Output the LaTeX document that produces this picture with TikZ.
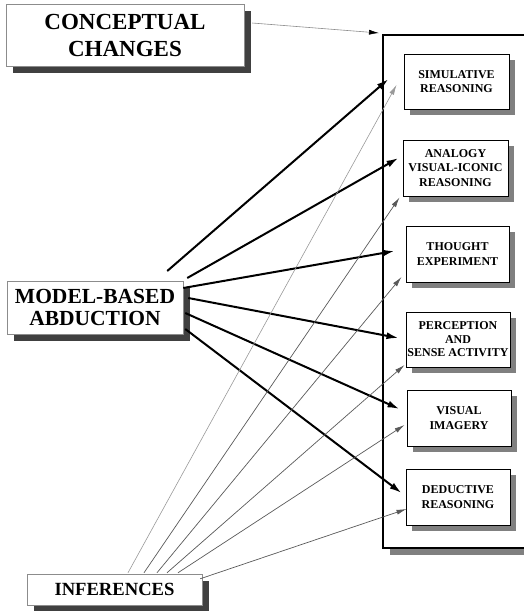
\documentclass[tikz,border=0pt]{standalone}
\usepackage{fontspec}
\setmainfont{Liberation Serif}
\usetikzlibrary{shadows,arrows.meta,calc}

\tikzset{
  outerbox/.style={draw=black!45, line width=0.5pt, fill=white, inner sep=0pt, align=center,
    drop shadow={shadow xshift=7pt, shadow yshift=-7pt, fill=black!75, opacity=1}},
  innerbox/.style={draw=black, line width=1pt, fill=white, inner sep=0pt, align=center,
    font=\bfseries\fontsize{12}{14.5}\selectfont,
    minimum width=104pt, minimum height=55pt,
    drop shadow={shadow xshift=6pt, shadow yshift=-6pt, fill=black!50, opacity=1}},
  frame/.style={draw=black, line width=2pt, fill=white, inner sep=0pt,
    drop shadow={shadow xshift=7pt, shadow yshift=-7pt, fill=black!50, opacity=1}},
  boldarrow/.style={line width=2pt, -{Latex[length=12pt,width=7pt]}},
  thinarrow/.style={line width=0.7pt, draw=black!65, -{Latex[length=10pt,width=5pt]}},
  faintarrow/.style={line width=0.6pt, draw=black!40, -{Latex[length=10pt,width=5pt]}},
  ccarrow/.style={line width=0.6pt, draw=black!45, -{Latex[length=10pt,width=5pt,black]}},
}

\begin{document}
\begin{tikzpicture}[x=1pt,y=-1pt]
\useasboundingbox (0,0) rectangle (524,611);

% enclosing frame of the reasoning modes
\node[frame, minimum width=157pt, minimum height=513pt] (frame) at (461.5,291.5) {};

% reasoning modes
\node[innerbox, minimum width=105pt] (sim) at (456.5,81.5) {SIMULATIVE\\REASONING};
\node[innerbox, minimum width=105pt, minimum height=56pt] (ana) at (455.5,168) {ANALOGY\\VISUAL-ICONIC\\REASONING};
\node[innerbox, minimum width=103pt, minimum height=56pt] (tho) at (457.5,254) {THOUGHT\\EXPERIMENT};
\node[innerbox, font=\bfseries\fontsize{12}{13.5}\selectfont] (per) at (458,339.5) {PERCEPTION\\AND\\SENSE ACTIVITY};
\node[innerbox, minimum height=56pt] (vis) at (459,418) {VISUAL\\IMAGERY};
\node[innerbox, minimum height=56pt] (ded) at (458,497) {DEDUCTIVE\\REASONING};

% source boxes
\node[outerbox, minimum width=238pt, minimum height=62pt,
      font=\bfseries\fontsize{23}{27}\selectfont] (cc) at (125,35) {CONCEPTUAL\\CHANGES};
\node[outerbox, minimum width=176pt, minimum height=53pt,
      font=\bfseries\fontsize{21.5}{22}\selectfont] (mba) at (95,307.5) {MODEL-BASED\\ABDUCTION};
\node[outerbox, minimum width=175pt, minimum height=31pt,
      font=\bfseries\fontsize{18.6}{20}\selectfont] (inf) at (114.5,589.5) {INFERENCES};

% arrow tips in the gap between the frame and the boxes
\coordinate (tsim) at ($(sim.west)+(-15,-2.5)$);
\coordinate (tana) at ($(ana.west)+(-4,-10)$);
\coordinate (ttho) at ($(tho.west)+(-11,-3)$);
\coordinate (tper) at ($(per.west)+(-7,-1.5)$);
\coordinate (tvis) at ($(vis.west)+(-7,-9)$);
\coordinate (tded) at ($(ded.west)+(-4,-4)$);

\coordinate (gsim) at ($(sim.west)+(-7,3.5)$);
\coordinate (gana) at ($(ana.south west)+(-3,1)$);
\coordinate (gtho) at ($(tho.west)+(-4,23)$);
\coordinate (gper) at ($(per.west)+(-1,25.5)$);
\coordinate (gvis) at ($(vis.west)+(-2,7)$);
\coordinate (gded) at ($(ded.west)+(1,12)$);

% conceptual changes feed the frame
\draw[ccarrow] ($(cc.east)+(8,-12)$) -- ($(frame.north west)+(-3,-1)$);

% model-based abduction
\draw[boldarrow] ($(mba.east)+(-16,-36.5)$) -- (tsim);
\draw[boldarrow] ($(mba.east)+(4,-29.5)$) -- (tana);
\draw[boldarrow] ($(mba.east)+(0,-19.5)$) -- (ttho);
\draw[boldarrow] ($(mba.east)+(5,-9.5)$) -- (tper);
\draw[boldarrow] ($(mba.east)+(2,5.5)$) -- (tvis);
\draw[boldarrow] ($(mba.east)+(2,21.5)$) -- (tded);

% inferences
\draw[faintarrow] ($(inf.north)+(13.5,-1)$) -- (gsim);
\draw[thinarrow] ($(inf.north)+(29.5,-1)$) -- (gana);
\draw[thinarrow] ($(inf.north)+(42.5,-1)$) -- (gtho);
\draw[thinarrow] ($(inf.north)+(52.5,-1)$) -- (gper);
\draw[thinarrow] ($(inf.north)+(63.5,-1)$) -- (gvis);
\draw[thinarrow] ($(inf.north east)+(-2,5)$) -- (gded);
\end{tikzpicture}
\end{document}
